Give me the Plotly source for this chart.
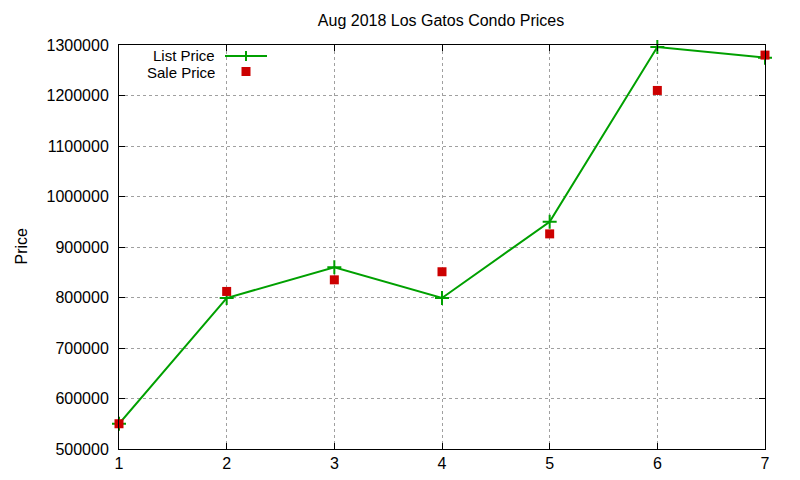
import plotly.graph_objects as go

# months / data points
weeks = [1, 2, 3, 4, 5, 6, 7]
list_price = [550000, 799000, 860000, 799000, 950000, 1296000, 1275000]
sale_price = [550000, 812000, 835000, 851000, 926000, 1210000, 1280000]

green = "#00a000"
red = "#cc0000"
font = "Liberation Sans, Arial, sans-serif"

fig = go.Figure()

fig.add_trace(go.Scatter(
    x=weeks, y=list_price, mode="lines+markers", name="List Price",
    line=dict(color=green, width=2),
    marker=dict(symbol="cross-thin", size=10, line=dict(color=green, width=2)),
    cliponaxis=False, showlegend=False,
))

fig.add_trace(go.Scatter(
    x=weeks, y=sale_price, mode="markers", name="Sale Price",
    marker=dict(symbol="square", size=9, color=red),
    cliponaxis=False, showlegend=False,
))

# page has an 8px body margin, so the plot sits 8px right/down
off = 8
W, H = 800, 480
ml, mr, mt, mb = 119 - off, 35 + off, 45 - off, 31 + off
pw, ph = W - ml - mr, H - mt - mb


def px(x):
    return (x - off - ml) / pw


def py(y):
    return (H - mb - (y - off)) / ph


# gnuplot style key, text on the left and sample on the right
fig.add_annotation(x=px(217), y=py(55), xref="paper", yref="paper", text="List Price",
                   showarrow=False, xanchor="right", yanchor="middle", height=14,
                   font=dict(size=15, color="black", family=font))
fig.add_annotation(x=px(217), y=py(72.5), xref="paper", yref="paper", text="Sale Price",
                   showarrow=False, xanchor="right", yanchor="middle", height=14,
                   font=dict(size=15, color="black", family=font))

# y axis label, as far left as the page allows
fig.add_annotation(x=px(10), y=py(246), xref="paper", yref="paper", text="Price",
                   showarrow=False, textangle=-90, xanchor="left", yanchor="middle",
                   font=dict(size=16, color="black", family=font))

fig.add_shape(type="line", xref="paper", yref="paper",
              x0=px(225), x1=px(267), y0=py(56), y1=py(56),
              line=dict(color=green, width=2))
fig.add_shape(type="line", xref="paper", yref="paper",
              x0=px(246), x1=px(246), y0=py(51), y1=py(61),
              line=dict(color=green, width=2))
fig.add_shape(type="rect", xref="paper", yref="paper",
              x0=px(241.5), x1=px(250.5), y0=py(67), y1=py(76),
              line=dict(width=0), fillcolor=red)

fig.update_layout(
    width=W, height=H,
    margin=dict(l=ml, r=mr, t=mt, b=mb),
    paper_bgcolor="white", plot_bgcolor="white",
    font=dict(family=font, size=16, color="black"),
    title=dict(text="Aug 2018 Los Gatos Condo Prices", x=px(441), xanchor="center",
               xref="paper", y=1 - 12 / H, yanchor="middle", font=dict(size=16)),
    xaxis=dict(range=[1, 7], dtick=1, tick0=1, showline=True, linecolor="black",
               linewidth=1, mirror="ticks", ticks="inside", ticklen=6,
               tickcolor="black", showgrid=True, gridcolor="#a0a0a0",
               griddash="dot", gridwidth=1, zeroline=False, automargin=False),
    yaxis=dict(range=[500000, 1300000], dtick=100000, tickformat="d",
               showline=True, linecolor="black", linewidth=1, mirror="ticks",
               ticks="inside", ticklen=6, tickcolor="black", showgrid=True,
               gridcolor="#a0a0a0", griddash="dot", gridwidth=1, zeroline=False,
               ticklabelstandoff=6, automargin=False),
)

fig.write_html("out.html")
